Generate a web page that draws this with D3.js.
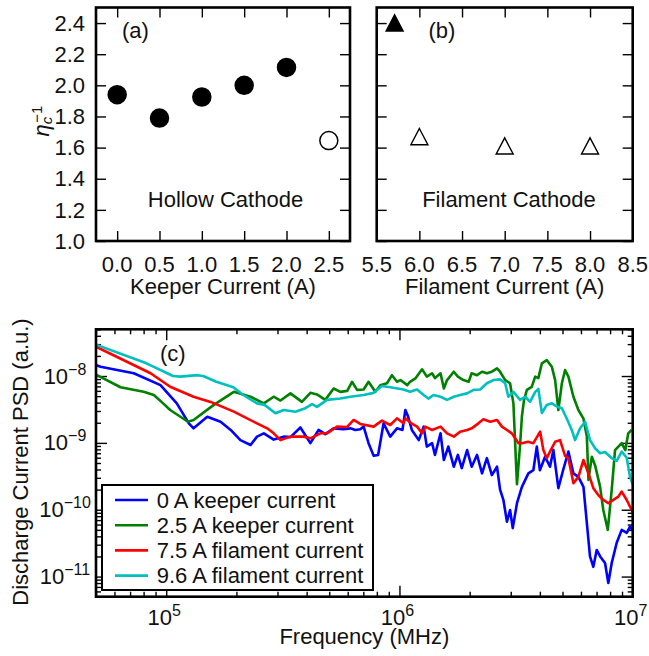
<!DOCTYPE html>
<html><head><meta charset="utf-8">
<script src="https://cdn.jsdelivr.net/npm/d3@7"></script>
<style>
html,body{margin:0;padding:0;background:#fff;}
svg{display:block;font-family:"Liberation Sans",Arial,Helvetica,sans-serif;}
</style></head><body>
<svg id="chart" width="649" height="656"></svg>
<script>
// ---------- DATA ----------
const keeperCurrent = [0.0, 0.5, 1.0, 1.5, 2.0, 2.5];
const keeperEtaInv  = [1.94, 1.79, 1.925, 2.0, 2.115, 1.645];
const keeperFilled  = [true, true, true, true, true, false];

const filamentCurrent = [5.71, 6.0, 7.0, 8.0];
const filamentEtaInv  = [2.40, 1.67, 1.61, 1.61];
const filamentFilled  = [true, false, false, false];

const keeperTicks = [0.0, 0.5, 1.0, 1.5, 2.0, 2.5];
const filamentTicks = [5.5, 6.0, 6.5, 7.0, 7.5, 8.0, 8.5];
const etaTicks = [1.0, 1.2, 1.4, 1.6, 1.8, 2.0, 2.2, 2.4];

const seriesNames = ["0 A keeper current", "2.5 A keeper current", "7.5 A filament current", "9.6 A filament current"];
const seriesColors = ["#0000ff", "#008000", "#ff0000", "#00bfbf"];

// [frequency, PSD]
const psdKeeper0 = [
[5.0e4,1.46e-8],[5.23e4,1.38e-8],[7.26e4,1.10e-8],[9.45e4,7.3e-9],[1.11e5,3.9e-9],[1.25e5,1.96e-9],
[1.31e5,1.65e-9],[1.50e5,2.46e-9],[1.71e5,2.07e-9],[1.89e5,1.56e-9],[2.08e5,1.10e-9],[2.30e5,9.3e-10],
[2.45e5,1.24e-9],[2.62e5,1.39e-9],[2.89e5,1.12e-9],[3.19e5,1.24e-9],[3.41e5,1.22e-9],[3.76e5,1.7e-9],
[4.15e5,9.9e-10],[4.50e5,1.56e-9],[4.81e5,1.35e-9],[5.22e5,1.65e-9],[5.75e5,1.6e-9],[6.16e5,1.65e-9],
[6.47e5,1.56e-9],[6.79e5,1.6e-9],[7.02e5,1.75e-9],[7.37e5,9.9e-10],[7.75e5,6.4e-10],[8.1e5,6.6e-10],
[8.55e5,1.96e-9],[9.13e5,1.24e-9],[9.76e5,1.65e-9],[1.03e6,1.56e-9],[1.06e6,3.1e-9],[1.09e6,2.46e-9],
[1.13e6,1.56e-9],[1.21e6,1.10e-9],[1.27e6,1.75e-9],[1.31e6,8.8e-10],[1.38e6,9.9e-10],[1.42e6,6.6e-10],
[1.50e6,1.39e-9],[1.55e6,5.55e-10],[1.62e6,8.8e-10],[1.71e6,4.4e-10],[1.78e6,6.6e-10],[1.85e6,4.2e-10],
[1.95e6,7.8e-10],[2.04e6,4.4e-10],[2.15e6,6.6e-10],[2.26e6,3.5e-10],[2.37e6,5.9e-10],[2.49e6,3.3e-10],
[2.62e6,4.4e-10],[2.70e6,2.0e-10],[2.79e6,1.40e-10],[2.89e6,6.6e-11],[2.98e6,9.9e-11],[3.06e6,5.3e-11],
[3.19e6,1.25e-10],[3.35e6,2.2e-10],[3.57e6,3.5e-10],[3.75e6,3.9e-10],[3.88e6,8.8e-10],[4.0e6,3.9e-10],
[4.21e6,6.2e-10],[4.42e6,4.4e-10],[4.57e6,7.8e-10],[4.80e6,2.1e-10],[5.03e6,3.9e-10],[5.30e6,7.4e-10],
[5.57e6,3.5e-10],[5.85e6,3.1e-10],[6.15e6,2.2e-10],[6.36e6,6.3e-11],[6.56e6,2.0e-11],[6.78e6,1.4e-11],
[7.01e6,2.5e-11],[7.25e6,2.0e-11],[7.61e6,1.6e-11],[7.86e6,8.0e-12],[8.13e6,1.6e-11],[8.54e6,3.2e-11],
[8.97e6,5.0e-11],[9.43e6,4.5e-11],[9.74e6,5.6e-11],[1.0e7,5.0e-11]
];
const psdKeeper25 = [
[5.0e4,1.05e-8],[6.37e4,6.8e-9],[8.0e4,5.8e-9],[8.85e4,5.2e-9],[9.7e4,3.9e-9],[1.04e5,3.1e-9],
[1.24e5,2.07e-9],[1.31e5,2.2e-9],[1.60e5,3.7e-9],[1.95e5,5.8e-9],[2.30e5,4.9e-9],[2.62e5,3.9e-9],
[2.89e5,4.9e-9],[3.09e5,4.3e-9],[3.41e5,5.5e-9],[3.82e5,4.1e-9],[4.15e5,5.6e-9],[4.43e5,5.3e-9],
[4.81e5,4.4e-9],[5.22e5,6.5e-9],[5.58e5,5.8e-9],[5.97e5,6.0e-9],[6.26e5,8.2e-9],[6.58e5,6.2e-9],
[7.02e5,6.3e-9],[7.37e5,8.2e-9],[7.88e5,5.8e-9],[8.28e5,7.3e-9],[8.84e5,7.8e-9],[9.29e5,1.03e-8],
[9.76e5,8.2e-9],[1.01e6,8.7e-9],[1.08e6,7.3e-9],[1.11e6,8.2e-9],[1.17e6,9.2e-9],[1.25e6,1.26e-8],
[1.31e6,9.8e-9],[1.38e6,1.10e-8],[1.42e6,9.3e-9],[1.50e6,1.10e-8],[1.55e6,6.5e-9],[1.60e6,8.7e-9],
[1.71e6,1.16e-8],[1.78e6,9.8e-9],[1.88e6,8.7e-9],[1.98e6,8.2e-9],[2.04e6,1.10e-8],[2.15e6,1.03e-8],
[2.26e6,1.16e-8],[2.37e6,1.10e-8],[2.49e6,1.16e-8],[2.62e6,1.30e-8],[2.70e6,1.16e-8],[2.84e6,8.7e-9],
[2.98e6,7.8e-9],[3.08e6,3.9e-9],[3.19e6,2.4e-10],[3.29e6,9.3e-10],[3.35e6,2.5e-9],[3.42e6,4.4e-9],
[3.52e6,6.2e-9],[3.69e6,6.9e-9],[3.82e6,9.8e-9],[3.94e6,9.3e-9],[4.08e6,1.55e-8],[4.28e6,1.73e-8],
[4.50e6,1.38e-8],[4.65e6,8.7e-9],[4.80e6,3.1e-9],[4.97e6,7.8e-9],[5.13e6,1.23e-8],[5.30e6,9.8e-9],
[5.57e6,4.9e-9],[5.85e6,3.1e-9],[6.15e6,2.3e-9],[6.36e6,1.24e-9],[6.46e6,2.8e-10],[6.68e6,6.2e-10],
[6.90e6,4.6e-10],[7.25e6,2.2e-10],[7.48e6,9.9e-11],[7.82e6,5.0e-11],[8.13e6,2.0e-10],[8.40e6,7.8e-10],
[8.97e6,9.9e-10],[9.3e6,7.8e-10],[9.57e6,1.39e-9],[9.9e6,1.56e-9]
];
const psdFilament75 = [
[5.0e4,2.74e-8],[8.57e4,1.10e-8],[1.04e5,6.9e-9],[1.31e5,4.9e-9],[1.55e5,4.1e-9],[1.95e5,2.93e-9],
[2.45e5,1.96e-9],[2.71e5,1.65e-9],[2.89e5,1.39e-9],[3.09e5,1.10e-9],[3.41e5,1.24e-9],[3.88e5,1.24e-9],
[4.15e5,1.17e-9],[4.58e5,1.39e-9],[4.89e5,1.39e-9],[5.40e5,1.75e-9],[5.97e5,1.73e-9],[6.36e5,2.2e-9],
[6.79e5,1.92e-9],[7.75e5,1.75e-9],[8.41e5,2.15e-9],[9.13e5,1.85e-9],[9.76e5,2.33e-9],[1.04e6,1.96e-9],
[1.06e6,2.33e-9],[1.12e6,1.98e-9],[1.19e6,1.75e-9],[1.25e6,1.39e-9],[1.29e6,1.75e-9],[1.38e6,1.56e-9],
[1.50e6,1.75e-9],[1.60e6,1.39e-9],[1.71e6,1.24e-9],[1.82e6,1.47e-9],[1.95e6,1.56e-9],[2.04e6,1.65e-9],
[2.18e6,1.96e-9],[2.29e6,2.25e-9],[2.45e6,2.07e-9],[2.62e6,2.2e-9],[2.75e6,1.75e-9],[2.89e6,1.56e-9],
[3.03e6,1.39e-9],[3.24e6,9.9e-10],[3.35e6,9.9e-10],[3.56e6,1.04e-9],[3.75e6,9.9e-10],[4.01e6,1.47e-9],
[4.14e6,7.8e-10],[4.28e6,5.9e-10],[4.42e6,7.4e-10],[4.65e6,1.04e-9],[4.88e6,1.10e-9],[5.13e6,6.4e-10],
[5.30e6,5.9e-10],[5.57e6,2.5e-10],[5.85e6,3.1e-10],[6.15e6,5.55e-10],[6.46e6,3.5e-10],[6.78e6,2.1e-10],
[7.12e6,1.66e-10],[7.48e6,1.40e-10],[7.86e6,1.25e-10],[8.26e6,1.40e-10],[8.68e6,1.57e-10],[8.97e6,1.87e-10],
[9.43e6,1.40e-10],[9.74e6,1.11e-10],[1.0e7,9.2e-11]
];
const psdFilament96 = [
[5.0e4,2.95e-8],[8.23e4,1.55e-8],[1.07e5,1.0e-8],[1.15e5,9.8e-9],[1.36e5,1.03e-8],[1.44e5,1.0e-8],
[1.64e5,8.2e-9],[1.94e5,6.8e-9],[2.14e5,5.2e-9],[2.45e5,3.9e-9],[2.64e5,3.7e-9],[2.94e5,2.77e-9],
[3.19e5,3.1e-9],[3.58e5,2.93e-9],[3.95e5,3.3e-9],[4.22e5,3.8e-9],[4.43e5,3.45e-9],[4.89e5,4.4e-9],
[5.58e5,4.6e-9],[6.16e5,4.9e-9],[7.02e5,5.2e-9],[7.75e5,5.6e-9],[8.41e5,7.1e-9],[9.13e5,6.8e-9],
[1.04e6,6.3e-9],[1.11e6,5.8e-9],[1.19e6,6.3e-9],[1.27e6,5.2e-9],[1.33e6,4.6e-9],[1.40e6,5.2e-9],
[1.50e6,4.9e-9],[1.60e6,4.4e-9],[1.71e6,4.9e-9],[1.82e6,5.2e-9],[1.95e6,5.5e-9],[2.08e6,6.2e-9],
[2.22e6,6.3e-9],[2.37e6,7.8e-9],[2.53e6,8.7e-9],[2.70e6,8.9e-9],[2.84e6,7.8e-9],[2.93e6,4.9e-9],
[3.08e6,5.8e-9],[3.29e6,4.4e-9],[3.46e6,4.9e-9],[3.63e6,4.1e-9],[3.82e6,5.8e-9],[3.94e6,6.4e-9],
[4.08e6,2.8e-9],[4.28e6,3.7e-9],[4.50e6,3.9e-9],[4.73e6,3.5e-9],[4.97e6,3.3e-9],[5.22e6,2.3e-9],
[5.48e6,1.56e-9],[5.66e6,1.10e-9],[5.95e6,1.65e-9],[6.25e6,2.07e-9],[6.56e6,1.10e-9],[6.90e6,8.3e-10],
[7.25e6,7.0e-10],[7.61e6,7.3e-10],[8.13e6,5.9e-10],[8.54e6,5.4e-10],[8.97e6,7.4e-10],[9.43e6,6.0e-10],
[9.74e6,3.1e-10],[1.0e7,2.4e-10]
];
const psdSeries = [psdKeeper0, psdKeeper25, psdFilament75, psdFilament96];
const freqMajorTicks = [1e5, 1e6, 1e7];
const psdMajorTicks = [1e-11, 1e-10, 1e-9, 1e-8];

// ---------- LAYOUT ----------
const svg = d3.select("#chart");
const FS = 22;
const A = {left:96, right:350, top:7.5, bottom:241};
const B = {left:376.7, right:632.7, top:7.5, bottom:241};
const C = {left:96, right:632.7, top:329.3, bottom:596.7};

const yA = d3.scaleLinear().domain([1.0, 2.5]).range([A.bottom, A.top]);
const xA = d3.scaleLinear().domain([-0.25, 2.75]).range([A.left, A.right]);
const xB = d3.scaleLinear().domain([5.5, 8.5]).range([B.left, B.right]);
const yB = yA.copy().range([B.bottom, B.top]);
const xC = d3.scaleLog().domain([5e4, 1e7]).range([C.left, C.right]);
const yC = d3.scaleLog().domain([5e-12, 5e-8]).range([C.bottom, C.top]);

function inward(axisFn, scale, values, size, tx, ty) {
  const g = svg.append("g").attr("transform", `translate(${tx},${ty})`)
    .call(axisFn(scale).tickValues(values).tickSize(-size).tickFormat(""));
  g.select(".domain").remove();
  g.selectAll(".tick line").attr("stroke", "#000").attr("stroke-width", 1.4);
}
function frame(P) {
  svg.append("rect").attr("x", P.left).attr("y", P.top)
    .attr("width", P.right - P.left).attr("height", P.bottom - P.top)
    .attr("fill", "none").attr("stroke", "#000").attr("stroke-width", 2.6);
}
function txt(x, y, s, anchor, size) {
  return svg.append("text").attr("x", x).attr("y", y).attr("text-anchor", anchor || "middle")
    .attr("font-size", size || FS).attr("fill", "#111").text(s);
}

// ---------- PANEL (a) ----------
inward(d3.axisBottom, xA, keeperTicks, 10, 0, A.bottom);
inward(d3.axisTop, xA, keeperTicks, 10, 0, A.top);
inward(d3.axisLeft, yA, etaTicks, 10, A.left, 0);
inward(d3.axisRight, yA, etaTicks, 10, A.right, 0);
etaTicks.forEach(v => txt(85, yA(v) + 7.7, d3.format(".1f")(v), "end"));
keeperTicks.forEach(v => txt(xA(v), 271.7, d3.format(".1f")(v)));
txt((A.left + A.right) / 2, 293.5, "Keeper Current (A)");
txt(122, 37.5, "(a)", "start");
txt(225.5, 207, "Hollow Cathode");
svg.append("g").selectAll("circle").data(keeperCurrent).join("circle")
  .attr("cx", d => xA(d)).attr("cy", (d, i) => yA(keeperEtaInv[i])).attr("r", 9)
  .attr("fill", (d, i) => keeperFilled[i] ? "#000" : "#fff")
  .attr("stroke", "#000").attr("stroke-width", 1.5);
frame(A);

// y label eta_c^-1
const eta = svg.append("text").attr("transform", "translate(49,121) rotate(-90)")
  .attr("text-anchor", "middle").attr("font-size", FS).attr("fill", "#111");
eta.append("tspan").attr("font-style", "italic").text("η");
eta.append("tspan").attr("font-style", "italic").attr("font-size", 15).attr("dy", 3).text("c");
eta.append("tspan").attr("font-size", 15).attr("dy", -10).attr("dx", -6).text("−1");

// ---------- PANEL (b) ----------
inward(d3.axisBottom, xB, filamentTicks, 10, 0, B.bottom);
inward(d3.axisTop, xB, filamentTicks, 10, 0, B.top);
inward(d3.axisLeft, yB, etaTicks, 10, B.left, 0);
inward(d3.axisRight, yB, etaTicks, 10, B.right, 0);
filamentTicks.forEach(v => txt(xB(v), 271.7, d3.format(".1f")(v)));
txt((B.left + B.right) / 2, 293.5, "Filament Current (A)");
txt(428.5, 37.5, "(b)", "start");
txt(509, 207, "Filament Cathode");
svg.append("g").selectAll("path").data(filamentCurrent).join("path")
  .attr("transform", (d, i) => `translate(${xB(d)},${yB(filamentEtaInv[i])})`)
  .attr("d", "M0,-8.2L8.5,8L-8.5,8Z")
  .attr("fill", (d, i) => filamentFilled[i] ? "#000" : "#fff")
  .attr("stroke", "#000").attr("stroke-width", 1.4).attr("stroke-linejoin", "miter");
frame(B);

// ---------- PANEL (c) ----------
const isMajor = v => Math.abs(Math.log10(v) - Math.round(Math.log10(v))) < 1e-6;
const xMinor = xC.ticks().filter(v => !isMajor(v));
const yMinor = yC.ticks().filter(v => !isMajor(v));
inward(d3.axisBottom, xC, freqMajorTicks, 11, 0, C.bottom);
inward(d3.axisTop, xC, freqMajorTicks, 11, 0, C.top);
inward(d3.axisBottom, xC, xMinor, 5, 0, C.bottom);
inward(d3.axisTop, xC, xMinor, 5, 0, C.top);
inward(d3.axisLeft, yC, psdMajorTicks, 11, C.left, 0);
inward(d3.axisRight, yC, psdMajorTicks, 11, C.right, 0);
inward(d3.axisLeft, yC, yMinor, 5, C.left, 0);
inward(d3.axisRight, yC, yMinor, 5, C.right, 0);

svg.append("clipPath").attr("id", "clipC").append("rect")
  .attr("x", C.left).attr("y", C.top).attr("width", C.right - C.left).attr("height", C.bottom - C.top);
const line = d3.line().x(d => xC(d[0])).y(d => yC(d[1]));
const gl = svg.append("g").attr("clip-path", "url(#clipC)");
psdSeries.forEach((s, i) => {
  gl.append("path").datum(s).attr("d", line).attr("fill", "none")
    .attr("stroke", seriesColors[i]).attr("stroke-width", 2.6)
    .attr("stroke-linejoin", "round").attr("stroke-linecap", "butt");
});

freqMajorTicks.forEach(v => {
  const t = txt(xC(v) - 2, 625, "");
  t.append("tspan").text("10");
  t.append("tspan").attr("font-size", 16).attr("dy", -9).text(String(Math.round(Math.log10(v))));
});
psdMajorTicks.forEach(v => {
  const t = txt(65, yC(v) + 7.5, "");
  t.append("tspan").text("10");
  t.append("tspan").attr("font-size", 16).attr("dy", -9).text("−" + String(Math.abs(Math.round(Math.log10(v)))));
});
txt((C.left + C.right) / 2, 643.5, "Frequency (MHz)");
svg.append("text").attr("transform", `translate(28,${(C.top + C.bottom) / 2 - 1}) rotate(-90)`)
  .attr("text-anchor", "middle").attr("font-size", FS).attr("fill", "#111")
  .text("Discharge Current PSD (a.u.)");
txt(160, 361, "(c)", "start");

// legend
const L = {x: 102, y: 485, w: 271, h: 105};
svg.append("rect").attr("x", L.x).attr("y", L.y).attr("width", L.w).attr("height", L.h)
  .attr("fill", "#fff").attr("stroke", "#000").attr("stroke-width", 2);
seriesNames.forEach((n, i) => {
  const yy = 500 + i * 25.2;
  svg.append("line").attr("x1", 115).attr("x2", 148).attr("y1", yy).attr("y2", yy)
    .attr("stroke", seriesColors[i]).attr("stroke-width", 2.6);
  txt(156.7, yy + 7.8, n, "start");
});
frame(C);
</script>
</body></html>
